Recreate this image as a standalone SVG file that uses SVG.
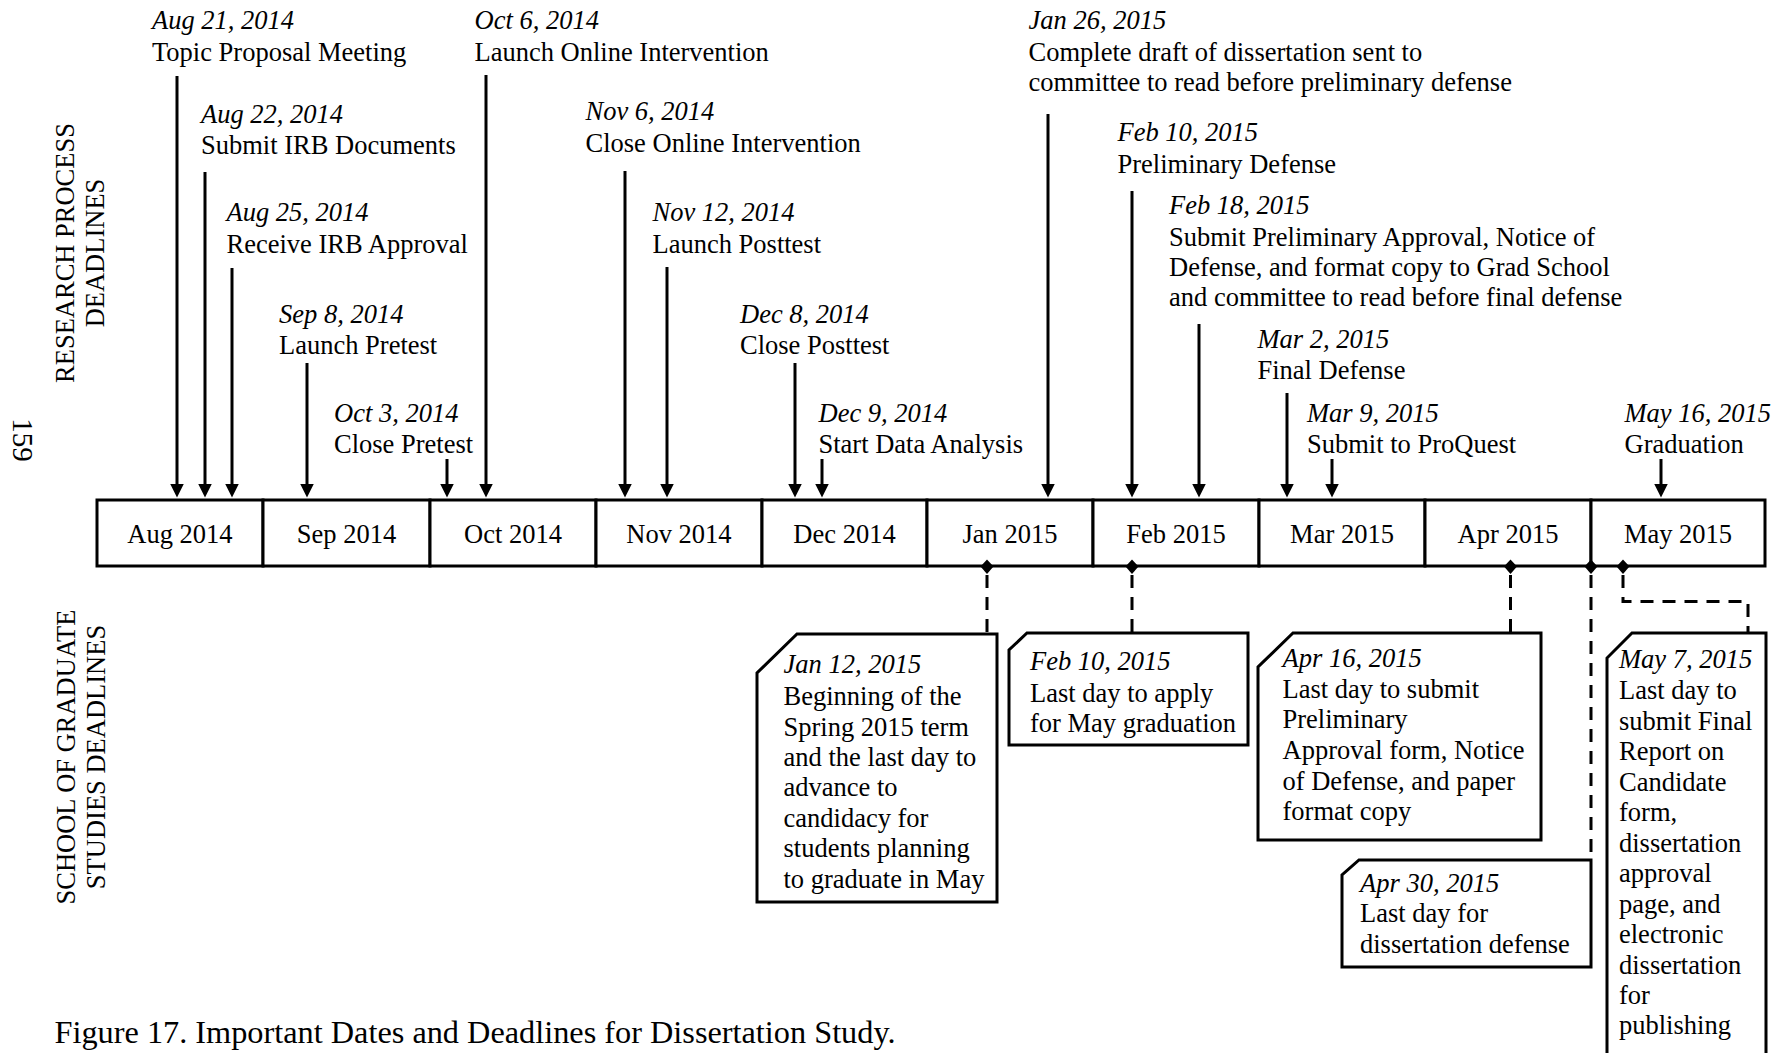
<svg xmlns="http://www.w3.org/2000/svg" width="1788" height="1053" viewBox="0 0 1788 1053">
  <style>
    text { font-family: "Liberation Serif", "Times New Roman", serif; font-size: 26.5px; fill: #000; }
    .d { font-style: italic; }
    .mid { text-anchor: middle; }
    .cell { fill: #fff; stroke: #000; stroke-width: 3; }
    .box { fill: #fff; stroke: #000; stroke-width: 3; stroke-linejoin: miter; }
    .arrow { stroke: #000; stroke-width: 3; fill: none; marker-end: url(#head); }
    .dash { stroke: #000; stroke-width: 3; fill: none; stroke-dasharray: 13 9; }
    .dot { fill: #000; }
  </style>
  <defs>
    <marker id="head" markerUnits="userSpaceOnUse" markerWidth="15" markerHeight="15" refX="4.5" refY="7" orient="auto">
      <path d="M0,0 L14,7 L0,14 z" fill="#000"/>
    </marker>
  </defs>
  <rect width="1788" height="1053" fill="#fff"/>

  <!-- side labels -->
  <g id="side-labels">
    <text transform="translate(74,253) rotate(-90)" class="mid">RESEARCH PROCESS</text>
    <text transform="translate(104,253) rotate(-90)" class="mid">DEADLINES</text>
    <text transform="translate(13,440) rotate(90)" class="mid" style="font-size:29px">159</text>
    <text transform="translate(74.5,757) rotate(-90)" class="mid">SCHOOL OF GRADUATE</text>
    <text transform="translate(105,757) rotate(-90)" class="mid">STUDIES DEADLINES</text>
  </g>

  <!-- connectors: event arrows and deadline leaders -->
  <g id="connectors">
    <line class="arrow" x1="177" y1="76" x2="177" y2="488"/>
    <line class="arrow" x1="205" y1="172" x2="205" y2="488"/>
    <line class="arrow" x1="232" y1="268" x2="232" y2="488"/>
    <line class="arrow" x1="307" y1="363" x2="307" y2="488"/>
    <line class="arrow" x1="447" y1="459" x2="447" y2="488"/>
    <line class="arrow" x1="486" y1="75" x2="486" y2="488"/>
    <line class="arrow" x1="625" y1="171" x2="625" y2="488"/>
    <line class="arrow" x1="667" y1="267" x2="667" y2="488"/>
    <line class="arrow" x1="795" y1="363" x2="795" y2="488"/>
    <line class="arrow" x1="822" y1="459" x2="822" y2="488"/>
    <line class="arrow" x1="1048" y1="114" x2="1048" y2="488"/>
    <line class="arrow" x1="1132" y1="191" x2="1132" y2="488"/>
    <line class="arrow" x1="1199" y1="324" x2="1199" y2="488"/>
    <line class="arrow" x1="1287" y1="393" x2="1287" y2="488"/>
    <line class="arrow" x1="1332" y1="459" x2="1332" y2="488"/>
    <line class="arrow" x1="1661" y1="459" x2="1661" y2="488"/>

    <line class="dash" x1="987" y1="575" x2="987" y2="634"/>
    <line class="dash" x1="1132" y1="575" x2="1132" y2="633"/>
    <line class="dash" x1="1510.5" y1="575" x2="1510.5" y2="633"/>
    <line class="dash" x1="1591" y1="575" x2="1591" y2="860"/>
    <polyline class="dash" points="1623,575 1623,601.5 1748,601.5 1748,633"/>
  </g>

  <!-- timeline of months -->
  <g id="timeline">
    <g id="m-aug"><rect class="cell" x="97" y="500" width="166" height="66"/><text class="mid" x="180" y="543">Aug 2014</text></g>
    <g id="m-sep"><rect class="cell" x="263" y="500" width="167" height="66"/><text class="mid" x="346.5" y="543">Sep 2014</text></g>
    <g id="m-oct"><rect class="cell" x="430" y="500" width="166" height="66"/><text class="mid" x="513" y="543">Oct 2014</text></g>
    <g id="m-nov"><rect class="cell" x="596" y="500" width="166" height="66"/><text class="mid" x="679" y="543">Nov 2014</text></g>
    <g id="m-dec"><rect class="cell" x="762" y="500" width="165" height="66"/><text class="mid" x="844.5" y="543">Dec 2014</text></g>
    <g id="m-jan"><rect class="cell" x="927" y="500" width="166" height="66"/><text class="mid" x="1010" y="543">Jan 2015</text></g>
    <g id="m-feb"><rect class="cell" x="1093" y="500" width="166" height="66"/><text class="mid" x="1176" y="543">Feb 2015</text></g>
    <g id="m-mar"><rect class="cell" x="1259" y="500" width="166" height="66"/><text class="mid" x="1342" y="543">Mar 2015</text></g>
    <g id="m-apr"><rect class="cell" x="1425" y="500" width="166" height="66"/><text class="mid" x="1508" y="543">Apr 2015</text></g>
    <g id="m-may"><rect class="cell" x="1591" y="500" width="174" height="66"/><text class="mid" x="1678" y="543">May 2015</text></g>
  </g>

  <!-- deadline anchors on the timeline -->
  <g id="anchors">
    <polygon class="dot" points="987,559.5 993.5,566.5 987,574 980.5,566.5"/>
    <polygon class="dot" points="1132,559.5 1138.5,566.5 1132,574 1125.5,566.5"/>
    <polygon class="dot" points="1510.5,559.5 1517,566.5 1510.5,574 1504,566.5"/>
    <polygon class="dot" points="1591,559.5 1597.5,566.5 1591,574 1584.5,566.5"/>
    <polygon class="dot" points="1623,559.5 1629.5,566.5 1623,574 1616.5,566.5"/>
  </g>

  <!-- research process events -->
  <g id="ev-aug21"><text class="d" x="152" y="28.6">Aug 21, 2014</text><text x="152" y="60.5">Topic Proposal Meeting</text></g>
  <g id="ev-aug22"><text class="d" x="201" y="123">Aug 22, 2014</text><text x="201" y="154">Submit IRB Documents</text></g>
  <g id="ev-aug25"><text class="d" x="226.5" y="221">Aug 25, 2014</text><text x="226.5" y="252.5">Receive IRB Approval</text></g>
  <g id="ev-sep8"><text class="d" x="279" y="323">Sep 8, 2014</text><text x="279" y="353.5">Launch Pretest</text></g>
  <g id="ev-oct3"><text class="d" x="334" y="422">Oct 3, 2014</text><text x="334" y="453">Close Pretest</text></g>
  <g id="ev-oct6"><text class="d" x="474.5" y="28.6">Oct 6, 2014</text><text x="474.5" y="60.5">Launch Online Intervention</text></g>
  <g id="ev-nov6"><text class="d" x="585.5" y="120">Nov 6, 2014</text><text x="585.5" y="151.8">Close Online Intervention</text></g>
  <g id="ev-nov12"><text class="d" x="652.5" y="221">Nov 12, 2014</text><text x="652.5" y="252.5">Launch Posttest</text></g>
  <g id="ev-dec8"><text class="d" x="740" y="323">Dec 8, 2014</text><text x="740" y="353.5">Close Posttest</text></g>
  <g id="ev-dec9"><text class="d" x="818.5" y="421.5">Dec 9, 2014</text><text x="818.5" y="453">Start Data Analysis</text></g>
  <g id="ev-jan26"><text class="d" x="1028.5" y="29">Jan 26, 2015</text><text x="1028.5" y="60.5">Complete draft of dissertation sent to</text><text x="1028.5" y="91">committee to read before preliminary defense</text></g>
  <g id="ev-feb10"><text class="d" x="1117.5" y="141">Feb 10, 2015</text><text x="1117.5" y="173">Preliminary Defense</text></g>
  <g id="ev-feb18"><text class="d" x="1169" y="214">Feb 18, 2015</text><text x="1169" y="245.5">Submit Preliminary Approval, Notice of</text><text x="1169" y="275.5">Defense, and format copy to Grad School</text><text x="1169" y="306">and committee to read before final defense</text></g>
  <g id="ev-mar2"><text class="d" x="1257.5" y="348">Mar 2, 2015</text><text x="1257.5" y="378.5">Final Defense</text></g>
  <g id="ev-mar9"><text class="d" x="1307" y="421.5">Mar 9, 2015</text><text x="1307" y="453">Submit to ProQuest</text></g>
  <g id="ev-may16"><text class="d" x="1624.5" y="421.5">May 16, 2015</text><text x="1624.5" y="453">Graduation</text></g>

  <!-- graduate school deadlines -->
  <g id="gs-jan12">
    <polygon class="box" points="797,634 997,634 997,902 757,902 757,673"/>
    <text class="d" x="783.5" y="673.3">Jan 12, 2015</text>
    <text x="783.5" y="705">Beginning of the</text>
    <text x="783.5" y="735.5">Spring 2015 term</text>
    <text x="783.5" y="765.5">and the last day to</text>
    <text x="783.5" y="796">advance to</text>
    <text x="783.5" y="826.5">candidacy for</text>
    <text x="783.5" y="857">students planning</text>
    <text x="783.5" y="888">to graduate in May</text>
  </g>
  <g id="gs-feb10">
    <polygon class="box" points="1027,633 1248,633 1248,745 1009,745 1009,650"/>
    <text class="d" x="1030" y="670">Feb 10, 2015</text>
    <text x="1030" y="701.5">Last day to apply</text>
    <text x="1030" y="731.5">for May graduation</text>
  </g>
  <g id="gs-apr16">
    <polygon class="box" points="1293,633 1541,633 1541,840 1258,840 1258,667"/>
    <text class="d" x="1282.5" y="666.7">Apr 16, 2015</text>
    <text x="1282.5" y="697.7">Last day to submit</text>
    <text x="1282.5" y="728.3">Preliminary</text>
    <text x="1282.5" y="759">Approval form, Notice</text>
    <text x="1282.5" y="790">of Defense, and paper</text>
    <text x="1282.5" y="820">format copy</text>
  </g>
  <g id="gs-apr30">
    <polygon class="box" points="1359,860 1591,860 1591,967 1342,967 1342,875"/>
    <text class="d" x="1360" y="891.7">Apr 30, 2015</text>
    <text x="1360" y="921.7">Last day for</text>
    <text x="1360" y="952.7">dissertation defense</text>
  </g>
  <g id="gs-may7">
    <polygon class="box" points="1632,633 1766,633 1766,1062 1607,1062 1607,658"/>
    <text class="d" x="1619" y="668.3">May 7, 2015</text>
    <text x="1619" y="698.7">Last day to</text>
    <text x="1619" y="729.5">submit Final</text>
    <text x="1619" y="760">Report on</text>
    <text x="1619" y="790.5">Candidate</text>
    <text x="1619" y="821">form,</text>
    <text x="1619" y="851.5">dissertation</text>
    <text x="1619" y="882">approval</text>
    <text x="1619" y="912.5">page, and</text>
    <text x="1619" y="943">electronic</text>
    <text x="1619" y="973.5">dissertation</text>
    <text x="1619" y="1003.5">for</text>
    <text x="1619" y="1033.5">publishing</text>
  </g>

  <!-- figure caption -->
  <text id="caption" x="54.5" y="1043" style="font-size:32.3px">Figure 17. Important Dates and Deadlines for Dissertation Study.</text>
</svg>
